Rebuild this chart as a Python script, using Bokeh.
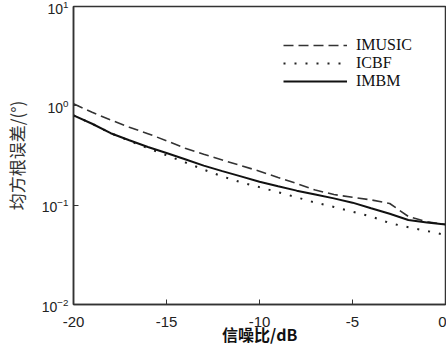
from bokeh.plotting import figure
from bokeh.models import Legend, LegendItem, FixedTicker, PrintfTickFormatter
from bokeh.embed import file_html
from bokeh.resources import INLINE

snr = [-20, -19, -18, -17, -16, -15, -14, -13, -12, -11, -10,
       -9, -8, -7, -6, -5, -4, -3, -2, -1, 0]
imusic = [1.05, 0.86, 0.72, 0.61, 0.525, 0.445, 0.375, 0.325, 0.285, 0.25, 0.22,
          0.19, 0.165, 0.142, 0.128, 0.12, 0.113, 0.104, 0.077, 0.068, 0.064]
icbf = [0.80, 0.66, 0.53, 0.445, 0.375, 0.318, 0.27, 0.228, 0.195, 0.17, 0.152,
        0.135, 0.12, 0.106, 0.096, 0.086, 0.077, 0.066, 0.060, 0.055, 0.050]
imbm = [0.80, 0.66, 0.53, 0.45, 0.385, 0.335, 0.29, 0.25, 0.22, 0.195, 0.172,
        0.155, 0.14, 0.128, 0.117, 0.106, 0.093, 0.082, 0.071, 0.067, 0.064]
x_ticks = [-20, -15, -10, -5, 0]
y_ticks = [0.01, 0.1, 1, 10]
x_title = "信噪比/dB"
y_title = "均方根误差/(°)"

p = figure(width=446, height=348, output_backend="svg", toolbar_location=None,
           x_range=(-20, 0), y_range=(0.01, 10), y_axis_type="log",
           min_border_left=63, min_border_top=6, min_border_bottom=40,
           min_border_right=1)
p.grid.visible = False
p.outline_line_color = "#333333"
p.outline_line_width = 1.5
p.background_fill_color = "white"
p.border_fill_color = "white"

r1 = p.line(snr, imusic, line_color="#333333", line_width=1.6, line_dash="10 5")
r2 = p.line(snr, icbf, line_color="#222222", line_width=2, line_dash="2 9")
r3 = p.line(snr, imbm, line_color="#111111", line_width=2)

legend = Legend(items=[LegendItem(label="IMUSIC", renderers=[r1]),
                       LegendItem(label="ICBF", renderers=[r2]),
                       LegendItem(label="IMBM", renderers=[r3])],
                location=(210, 214), border_line_color=None,
                background_fill_alpha=0, padding=5, spacing=0,
                glyph_width=64, glyph_height=18, label_height=18,
                label_standoff=9,
                label_text_font="Liberation Serif", label_text_font_size="16px",
                label_text_color="#111111")
p.add_layout(legend)

xa = p.xaxis[0]
xa.ticker = FixedTicker(ticks=x_ticks)
xa.formatter = PrintfTickFormatter(format="%d")
xa.major_tick_in = 5
xa.major_tick_out = 0
xa.minor_tick_line_color = None
xa.axis_line_color = "#333333"
xa.axis_line_width = 1.5
xa.major_tick_line_color = "#333333"
xa.major_label_standoff = 12
xa.major_label_text_font = "Liberation Sans"
xa.major_label_text_font_size = "15px"
xa.major_label_text_color = "#222222"
xa.axis_label = x_title
xa.axis_label_text_font = "Noto Sans CJK SC"
xa.axis_label_text_font_style = "bold"
xa.axis_label_text_font_size = "16px"
xa.axis_label_text_color = "#111111"
xa.axis_label_standoff = -8

ya = p.yaxis[0]
ya.ticker = FixedTicker(ticks=y_ticks, minor_ticks=[])
ya.major_tick_in = 5
ya.major_tick_out = 0
ya.minor_tick_line_color = None
ya.axis_line_color = "#333333"
ya.axis_line_width = 1.5
ya.major_tick_line_color = "#333333"
ya.major_label_standoff = 5
ya.major_label_text_font = "Liberation Sans"
ya.major_label_text_font_size = "14px"
ya.major_label_text_color = "#222222"
ya.axis_label = y_title
ya.axis_label_text_font = "Noto Sans CJK SC"
ya.axis_label_text_font_style = "normal"
ya.axis_label_text_font_size = "17px"
ya.axis_label_text_color = "#333333"
ya.axis_label_standoff = 10

open("out.html", "w").write(file_html(p, INLINE))
